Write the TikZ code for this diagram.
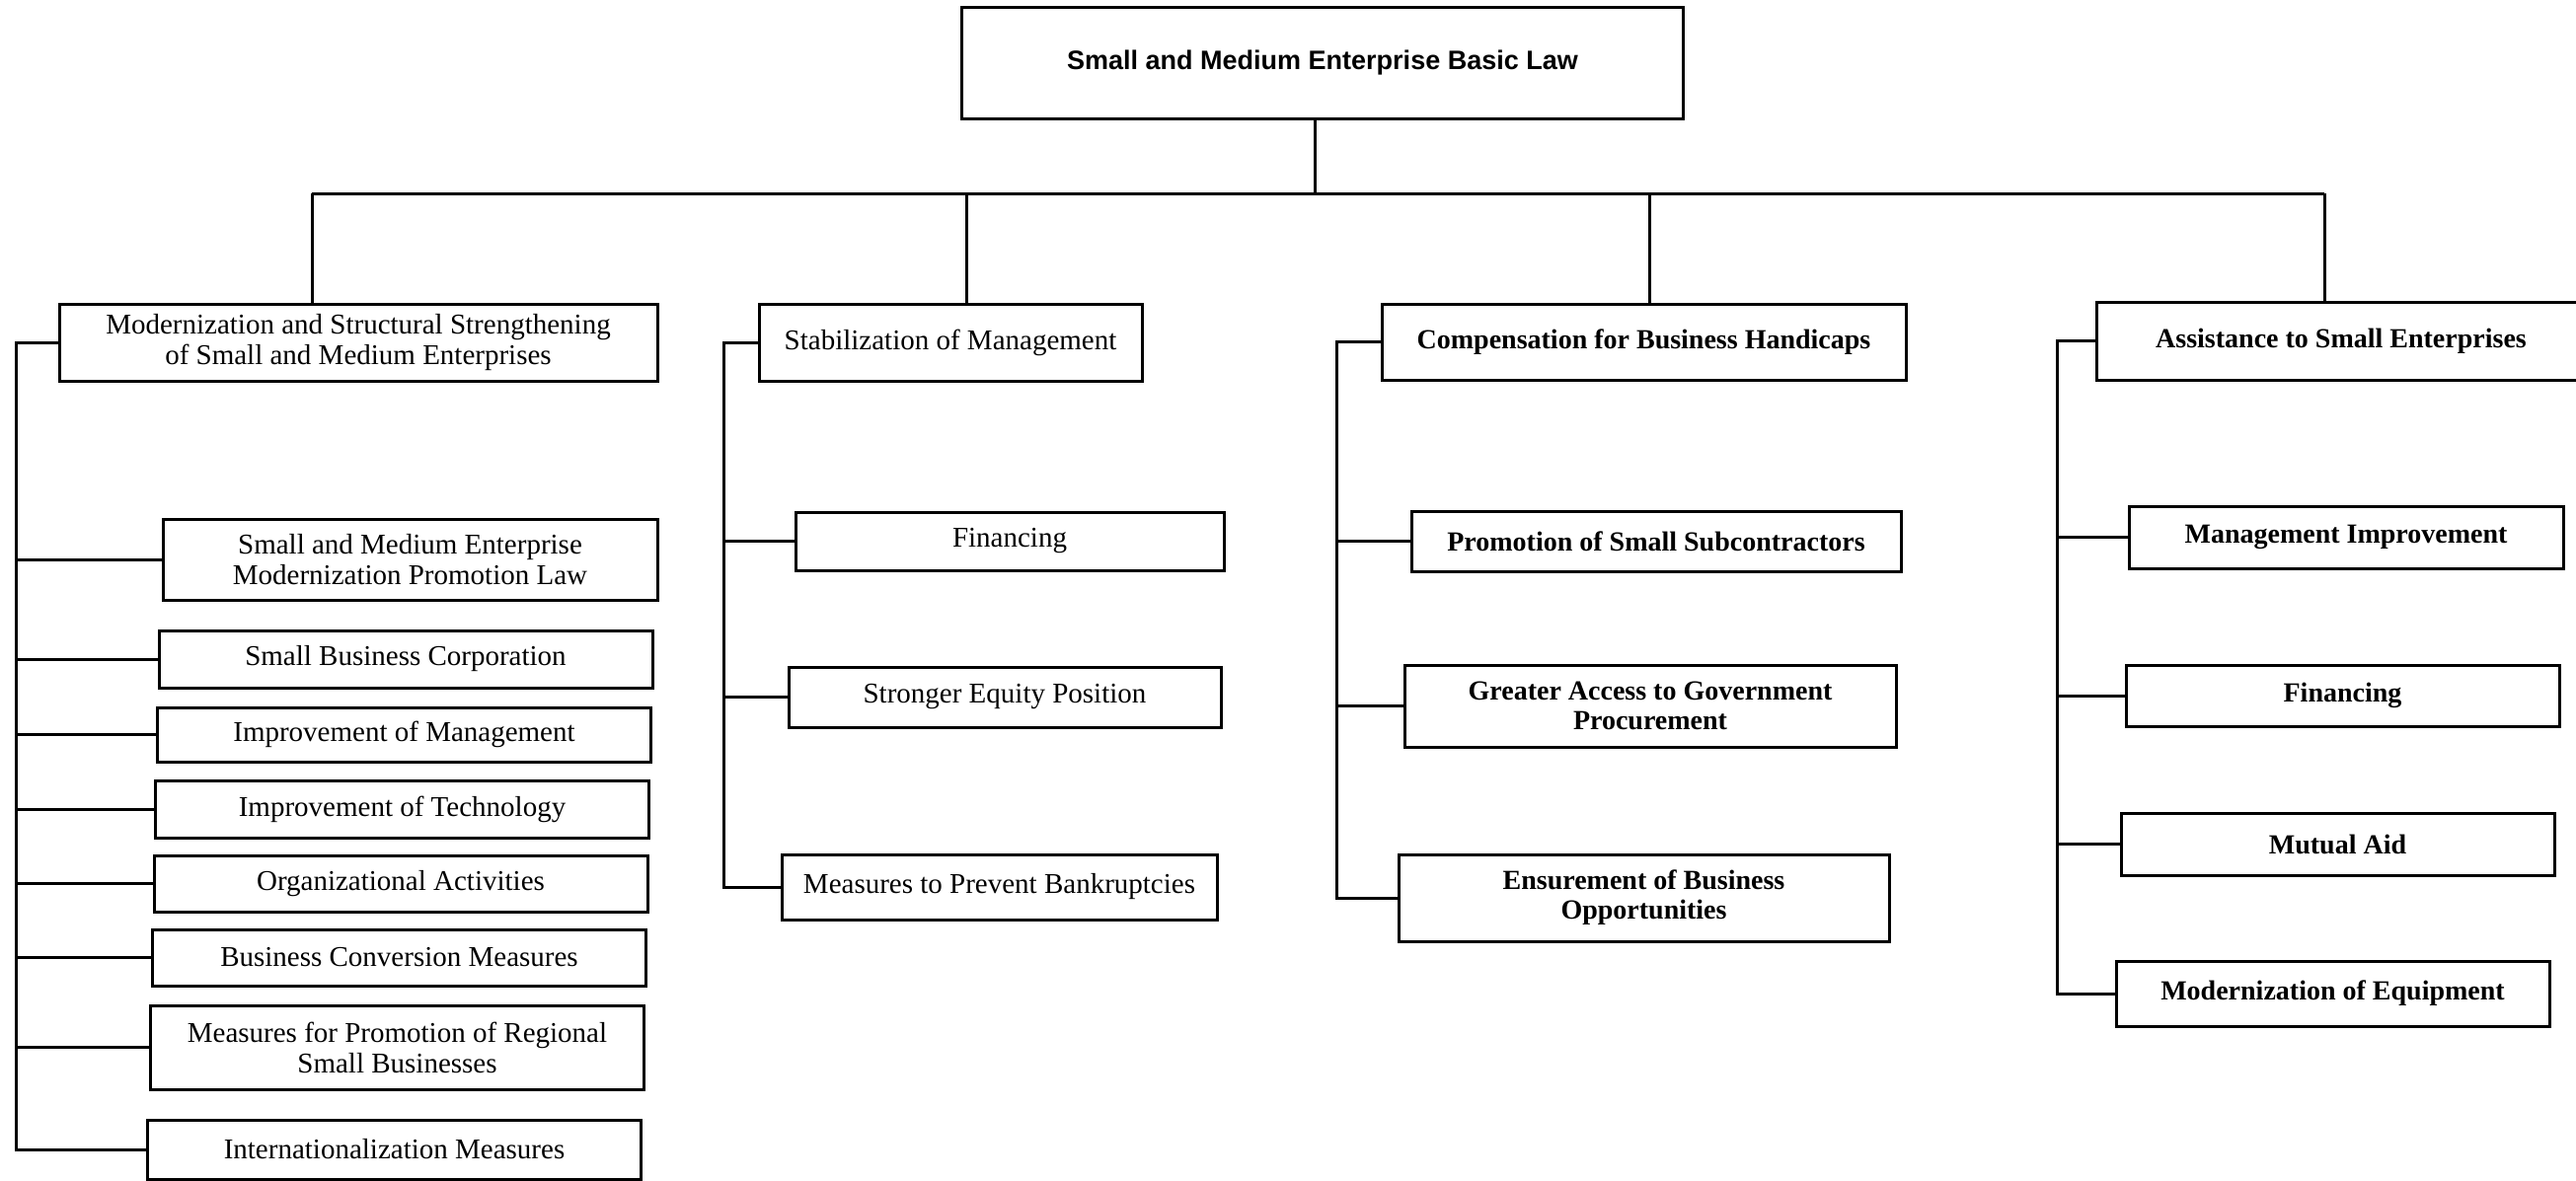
\documentclass[tikz,border=0pt]{standalone}
\usepackage{fontspec}
\setmainfont{Liberation Serif}
\setsansfont{Liberation Sans}

\begin{document}
\begin{tikzpicture}[x=0.5pt,y=-0.5pt,line width=1.5pt,every node/.style={black},
	box/.style={draw,rectangle,inner sep=0pt,align=center,line width=1.5pt},
	lawbox/.style={box,font=\sffamily\bfseries\fontsize{13.5}{15}\selectfont},
	plainbox/.style={box,font=\fontsize{14.5}{15.5}\selectfont},
	heavybox/.style={box,font=\bfseries\fontsize{14}{15}\selectfont}]
\useasboundingbox (0,0) rectangle (2610,1196);

%	\coordinate (    ) at (x, y) -- bus line and the four spines
\coordinate (stem) at (1332,196);
\coordinate (bus1) at ( 316,196);
\coordinate (bus2) at ( 979,196);
\coordinate (bus3) at (1671,196);
\coordinate (bus4) at (2355,196);
\coordinate (sp1)  at (  16,0);
\coordinate (sp2)  at ( 733,0);
\coordinate (sp3)  at (1354,0);
\coordinate (sp4)  at (2084,0);

\node[lawbox,minimum width=365.5pt,minimum height=56.5pt] (basic) at (1340,63.5) {Small and Medium Enterprise Basic Law};

% the four groups
\node[plainbox,minimum width=303pt,minimum height=39pt]   (g1) at ( 363,347)   {Modernization and Structural Strengthening\\of Small and Medium Enterprises};
\node[plainbox,minimum width=194pt,minimum height=39pt]   (g2) at ( 963,347)   {Stabilization of Management};
\node[heavybox,minimum width=265.5pt,minimum height=38.5pt] (g3) at (1665.5,346.5) {Compensation for Business Handicaps};
\node[heavybox,minimum width=248pt,minimum height=39.5pt] (g4) at (2372,345.5) {Assistance to Small Enterprises};

% first column
\node[plainbox,minimum width=250.5pt,minimum height=41pt] (m1) at (415.5,567)  {Small and Medium Enterprise\\Modernization Promotion Law};
\node[plainbox,minimum width=250pt,minimum height=29pt]   (m2) at (411,668)    {Small Business Corporation};
\node[plainbox,minimum width=250pt,minimum height=27.5pt] (m3) at (409.5,744.5) {Improvement of Management};
\node[plainbox,minimum width=250pt,minimum height=29pt]   (m4) at (407.5,820)  {Improvement of Technology};
\node[plainbox,minimum width=250pt,minimum height=28.5pt] (m5) at (406,895.5)  {Organizational Activities};
\node[plainbox,minimum width=250pt,minimum height=28.5pt] (m6) at (404.5,970.5) {Business Conversion Measures};
\node[plainbox,minimum width=250pt,minimum height=42.5pt] (m7) at (402.5,1061.5) {Measures for Promotion of Regional\\Small Businesses};
\node[plainbox,minimum width=250pt,minimum height=30pt]   (m8) at (399.5,1165) {Internationalization Measures};

% second column
\node[plainbox,minimum width=217pt,minimum height=29.5pt] (s1) at (1023,548.5)  {Financing};
\node[plainbox,minimum width=219pt,minimum height=30.5pt] (s2) at (1018,706.5)  {Stronger Equity Position};
\node[plainbox,minimum width=220.5pt,minimum height=33pt] (s3) at (1012.5,899)  {Measures to Prevent Bankruptcies};

% third column
\node[heavybox,minimum width=248pt,minimum height=30.5pt]   (c1) at (1678,548.5)   {Promotion of Small Subcontractors};
\node[heavybox,minimum width=249pt,minimum height=41.5pt]   (c2) at (1672,715.5)   {Greater Access to Government\\Procurement};
\node[heavybox,minimum width=248.5pt,minimum height=44pt]   (c3) at (1665.5,910)   {Ensurement of Business\\Opportunities};

% fourth column
\node[heavybox,minimum width=220pt,minimum height=31.5pt] (a1) at (2377,544.5)   {Management Improvement};
\node[heavybox,minimum width=219.5pt,minimum height=31pt] (a2) at (2373.5,705)   {Financing};
\node[heavybox,minimum width=219.5pt,minimum height=31.5pt] (a3) at (2368.5,855.5) {Mutual Aid};
\node[heavybox,minimum width=219.5pt,minimum height=33pt] (a4) at (2363.5,1007)  {Modernization of Equipment};

% bus
\draw (stem |- basic.south) -- (stem);
\draw (bus1) -- (bus4);
\draw (bus1) -- (bus1 |- g1.north);
\draw (bus2) -- (bus2 |- g2.north);
\draw (bus3) -- (bus3 |- g3.north);
\draw (bus4) -- (bus4 |- g4.north);

% spines
\draw (g1.west) -- (g1.west -| sp1) -- (sp1 |- m8.west) -- (m8.west);
\draw (m1.west) -- (m1.west -| sp1);
\draw (m2.west) -- (m2.west -| sp1);
\draw (m3.west) -- (m3.west -| sp1);
\draw (m4.west) -- (m4.west -| sp1);
\draw (m5.west) -- (m5.west -| sp1);
\draw (m6.west) -- (m6.west -| sp1);
\draw (m7.west) -- (m7.west -| sp1);

\draw (g2.west) -- (g2.west -| sp2) -- (sp2 |- s3.west) -- (s3.west);
\draw (s1.west) -- (s1.west -| sp2);
\draw (s2.west) -- (s2.west -| sp2);

\draw (g3.west) -- (g3.west -| sp3) -- (sp3 |- c3.west) -- (c3.west);
\draw (c1.west) -- (c1.west -| sp3);
\draw (c2.west) -- (c2.west -| sp3);

\draw (g4.west) -- (g4.west -| sp4) -- (sp4 |- a4.west) -- (a4.west);
\draw (a1.west) -- (a1.west -| sp4);
\draw (a2.west) -- (a2.west -| sp4);
\draw (a3.west) -- (a3.west -| sp4);

\end{tikzpicture}
\end{document}
